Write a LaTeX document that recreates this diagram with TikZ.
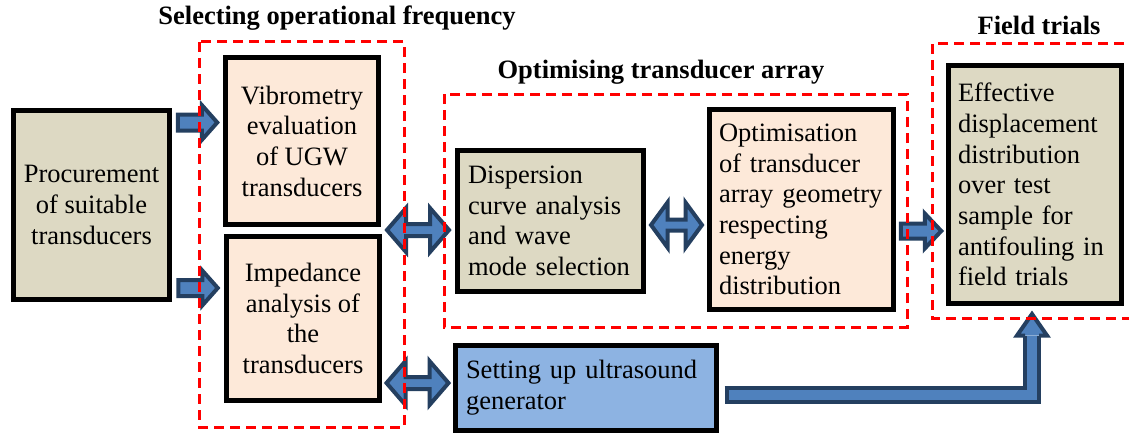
\documentclass[tikz,border=0pt]{standalone}
\usepackage{fontspec}
\setmainfont{Liberation Serif}
\usetikzlibrary{calc}
\definecolor{tanfill}{RGB}{221,217,195}
\definecolor{peachfill}{RGB}{253,233,217}
\definecolor{genfill}{RGB}{141,179,226}
\definecolor{arrowblue}{RGB}{79,129,189}
\definecolor{arrowdark}{RGB}{36,63,96}
% single right block arrow: #1 centre, #2 half length, #3 shaft half, #4 head half, #5 head length
\newcommand{\blockR}[5]{%
  \filldraw[barrow, shift={(#1)}] (-#2,-#3) -- ({#2-#5},-#3) -- ({#2-#5},-#4) -- (#2,0) -- ({#2-#5},#4) -- ({#2-#5},#3) -- (-#2,#3) -- cycle;}
% double block arrow
\newcommand{\blockD}[5]{%
  \filldraw[barrow, shift={(#1)}] (-#2,0) -- ({-#2+#5},-#4) -- ({-#2+#5},-#3) -- ({#2-#5},-#3) -- ({#2-#5},-#4) -- (#2,0) -- ({#2-#5},#4) -- ({#2-#5},#3) -- ({-#2+#5},#3) -- ({-#2+#5},#4) -- cycle;}
\begin{document}
\begin{tikzpicture}[x=1pt,y=-1pt,
  box/.style={draw=black, line width=5pt, inner sep=0pt, font=\fontsize{26.5}{30.7}\selectfont},
  lbox/.style={box, align=left},
  cbox/.style={box, align=center},
  barrow/.style={draw=arrowdark, fill=arrowblue, line width=4pt, line join=miter},
  grp/.style={draw=red, line width=3pt, dash pattern=on 10pt off 6pt},
  ttl/.style={font=\fontsize{26.5}{30.7}\selectfont\bfseries, inner sep=0pt}
]
\useasboundingbox (0,0) rectangle (1129,436);

% boxes
\node[cbox, fill=tanfill, minimum width=156pt, minimum height=189pt] (proc) at (91.5,205) {Procurement\\of suitable\\transducers};
\node[cbox, fill=peachfill, minimum width=153pt, minimum height=167pt] (vib) at (302,141) {Vibrometry\\evaluation\\of UGW\\transducers};
\node[cbox, fill=peachfill, minimum width=153pt, minimum height=164pt] (imp) at (303,318.5) {Impedance\\analysis of\\the\\transducers};
\node[lbox, fill=tanfill, minimum width=186pt, minimum height=141pt, inner xsep=10.5pt, text width=165pt] (disp) at (550.5,221) {Dispersion\\curve analysis\\and wave\\mode selection};
\node[lbox, fill=peachfill, minimum width=184pt, minimum height=200pt, inner xsep=9.5pt, text width=165pt] (opt) at (801.5,209.5) {Optimisation\\of transducer\\array geometry\\respecting\\energy\\distribution};
\node[lbox, fill=tanfill, minimum width=173pt, minimum height=238pt, inner xsep=9.5pt, text width=154pt] (eff) at (1035,184.5) {Effective\\displacement\\distribution\\over test\\sample for\\antifouling in\\field trials};
\node[lbox, fill=genfill, minimum width=261pt, minimum height=85pt, inner xsep=10.5pt, text width=240pt] (gen) at (586,388) {Setting up ultrasound\\generator};

% block arrow centres, between the named boxes
\coordinate (a1) at ($(proc.east |- 0,122.5)!0.5!(vib.west |- 0,122.5)$);
\coordinate (a2) at ($(proc.east |- 0,288)!0.5!(imp.west |- 0,288)$);
\coordinate (d1) at ($(vib.east |- 0,230)!0.5!(disp.west |- 0,230)$);
\coordinate (d2) at ($(imp.east |- 0,383)!0.5!(gen.west |- 0,383)$);
\coordinate (d3) at ($(disp.east |- 0,225)!0.5!(opt.west |- 0,225)$);
\coordinate (r1) at ($(opt.east |- 0,231)!0.5!(eff.west |- 0,231)$);

\blockR{a1}{19.75}{8}{17.5}{15.5}
\blockR{a2}{19.75}{8}{17.5}{15.5}
\blockD{d1}{31}{6}{22}{19}
\blockD{d2}{31}{6}{22}{19}
\blockD{d3}{25.5}{5.5}{22.5}{16.5}
\blockR{r1}{20.25}{7.5}{17.5}{16.5}

% bent arrow from generator to field trials
\coordinate (bs) at ($(gen.east)+(5.5,6.5)$);
\coordinate (bt) at ($(eff.south)+(-3,8)$);
\coordinate (bc) at (bt |- bs);
\coordinate (bh) at ($(bt)+(0,21.5)$);
\draw[line width=18pt, arrowdark, line join=miter] (bs) -- (bc) -- (bh);
\draw[line width=10pt, arrowblue, line join=miter] ($(bs)+(4,0)$) -- (bc) -- (bh);
\filldraw[fill=arrowblue, draw=arrowdark, line width=4pt, line join=miter] ($(bh)+(-7,0)$) -- ($(bh)+(-15,0)$) -- (bt) -- ($(bh)+(15,0)$) -- ($(bh)+(7,0)$);

% dashed group frames
\draw[grp] (199,42) rectangle (404,427);
\draw[grp] (444,94) rectangle (907,327);
\draw[grp] (1140,44) -- (932,44) -- (932,318) -- (1140,318);

% titles
\node[ttl] (t1) at (337,18) {Selecting operational frequency};
\node[ttl] (t2) at (661,72) {Optimising transducer array};
\node[ttl] (t3) at (1039,25) {Field trials};
\end{tikzpicture}
\end{document}
